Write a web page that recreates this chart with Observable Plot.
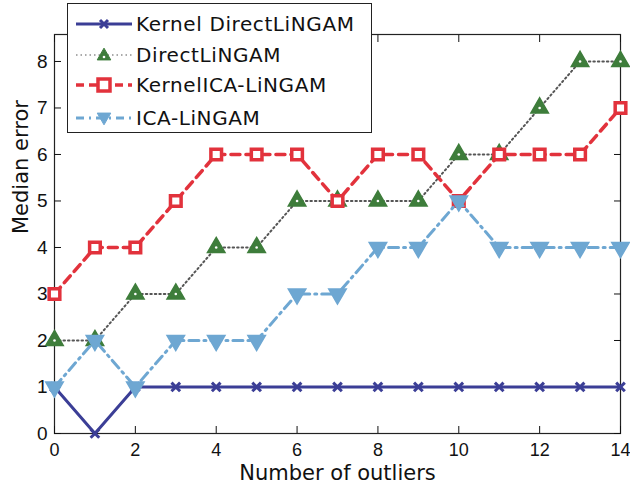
<!DOCTYPE html>
<html><head><meta charset="utf-8">
<script src="https://cdn.jsdelivr.net/npm/d3@7"></script>
<script src="https://cdn.jsdelivr.net/npm/@observablehq/plot@0.6"></script>
<style>
body{margin:0;background:#fff;font-family:"Liberation Sans",Arial,sans-serif;}
#wrap{position:relative;width:630px;height:493px;}
#legend{position:absolute;left:67px;top:3px;width:305px;height:130px;border:1.5px solid #222;background:#fff;box-sizing:border-box;}
.row{position:absolute;left:6px;height:30px;display:flex;align-items:center;font-family:"DejaVu Sans",sans-serif;font-size:20px;letter-spacing:0.6px;color:#111;white-space:nowrap;}
.row svg{margin-right:2px;}
</style></head>
<body><div id="wrap"></div>
<script>
const outliers = [0,1,2,3,4,5,6,7,8,9,10,11,12,13,14];
const kernelDirect = [1,0,1,1,1,1,1,1,1,1,1,1,1,1,1];
const direct = [2,2,3,3,4,4,5,5,5,5,6,6,7,8,8];
const kernelICA = [3,4,4,5,6,6,6,5,6,6,5,6,6,6,7];
const ica = [1,2,1,2,2,2,3,3,4,4,5,4,4,4,4];
const seriesNames = ["Kernel DirectLiNGAM","DirectLiNGAM","KernelICA-LiNGAM","ICA-LiNGAM"];
const xTicks = [0,2,4,6,8,10,12,14];
const yTicks = [0,1,2,3,4,5,6,7,8];
const xTitle = "Number of outliers";
const yTitle = "Median error";

const C = {kd:"#3b3e96", d:"#3e7d3b", k:"#e2323c", i:"#6ea7d2"};
const mk = arr => outliers.map((x,j)=>({x, y:arr[j]}));
const dKD = mk(kernelDirect), dD = mk(direct), dK = mk(kernelICA), dI = mk(ica);

const chart = Plot.plot({
  width:630, height:493,
  marginLeft:54, marginRight:10, marginTop:34, marginBottom:60,
  style:{fontFamily:"'Liberation Sans', Arial, sans-serif", fontSize:"18px", color:"#111"},
  x:{domain:[0,14]},
  y:{domain:[0,8.58]},
  marks:[
    Plot.frame({stroke:"#222", strokeWidth:1.2}),
    Plot.axisX({ticks:xTicks, anchor:"bottom", tickSize:7, dy:-7, tickFormat:()=>"", label:null}),
    Plot.axisX({ticks:xTicks, anchor:"top", tickSize:7, dy:7, tickFormat:()=>"", label:null}),
    Plot.axisY({ticks:yTicks, anchor:"left", tickSize:7, dx:7, tickFormat:()=>"", label:null}),
    Plot.axisY({ticks:yTicks, anchor:"right", tickSize:7, dx:-7, tickFormat:()=>"", label:null}),
    Plot.axisX({ticks:xTicks, anchor:"bottom", tickSize:0, tickPadding:10, fontSize:18, label:null}),
    Plot.axisY({ticks:yTicks, anchor:"left", tickSize:0, tickPadding:7, fontSize:19, label:null}),
    Plot.text([xTitle], {frameAnchor:"bottom", dy:46, fontSize:21, fontFamily:"DejaVu Sans", fill:"#111"}),
    Plot.text([yTitle], {frameAnchor:"left", dx:-33, rotate:-90, fontSize:21, fontFamily:"DejaVu Sans", fill:"#111"}),
    Plot.line(dKD, {x:"x", y:"y", stroke:C.kd, strokeWidth:3}),
    Plot.dot(dKD, {x:"x", y:"y", symbol:"times", r:4, stroke:C.kd, strokeWidth:3}),
    Plot.line(dD, {x:"x", y:"y", stroke:"#555", strokeWidth:2, strokeDasharray:"1.5,3"}),
    Plot.dot(dD, {x:"x", y:"y", symbol:"triangle", r:6.5, fill:C.d, stroke:C.d, strokeWidth:1.5}),
    Plot.dot(dD, {x:"x", y:"y", r:1.3, fill:"#fff", stroke:null}),
    Plot.line(dK, {x:"x", y:"y", stroke:C.k, strokeWidth:3.5, strokeDasharray:"9,6"}),
    Plot.dot(dK, {x:"x", y:"y", symbol:"square", r:6, fill:"#fff", stroke:C.k, strokeWidth:3.5}),
    Plot.line(dI, {x:"x", y:"y", stroke:C.i, strokeWidth:3, strokeDasharray:"10,5,2,5"}),
    Plot.dot(dI, {x:"x", y:"y", symbol:"triangle", rotate:180, r:6.5, fill:C.i, stroke:C.i, strokeWidth:1.5})
  ]
});
const wrap = document.getElementById("wrap");
wrap.appendChild(chart);

const legend = document.createElement("div");
legend.id = "legend";
const samples = [
  `<line x1="2" y1="10" x2="58" y2="10" stroke="${C.kd}" stroke-width="3"/><path d="M26,6L34,14M34,6L26,14" stroke="${C.kd}" stroke-width="3"/>`,
  `<line x1="2" y1="10" x2="58" y2="10" stroke="#aaa" stroke-width="2" stroke-dasharray="1.5,3"/><path d="${d3.symbol(d3.symbolTriangle,80)()}" transform="translate(30,11)" fill="${C.d}" stroke="${C.d}"/><circle cx="30" cy="12" r="1.3" fill="#fff"/>`,
  `<line x1="2" y1="10" x2="58" y2="10" stroke="${C.k}" stroke-width="3.5" stroke-dasharray="8,5"/><rect x="24" y="4" width="12" height="12" fill="#fff" stroke="${C.k}" stroke-width="3.5"/>`,
  `<line x1="2" y1="10" x2="58" y2="10" stroke="${C.i}" stroke-width="3" stroke-dasharray="8,5,2,5"/><path d="${d3.symbol(d3.symbolTriangle,80)()}" transform="translate(30,9) rotate(180)" fill="${C.i}" stroke="${C.i}"/>`
];
const tops = [5, 36, 66, 99];
seriesNames.forEach((n,i)=>{
  const r = document.createElement("div");
  r.className = "row";
  r.style.top = tops[i] + "px";
  r.innerHTML = `<svg width="60" height="20">${samples[i]}</svg><span>${n}</span>`;
  legend.appendChild(r);
});
wrap.appendChild(legend);
</script>
</body></html>
